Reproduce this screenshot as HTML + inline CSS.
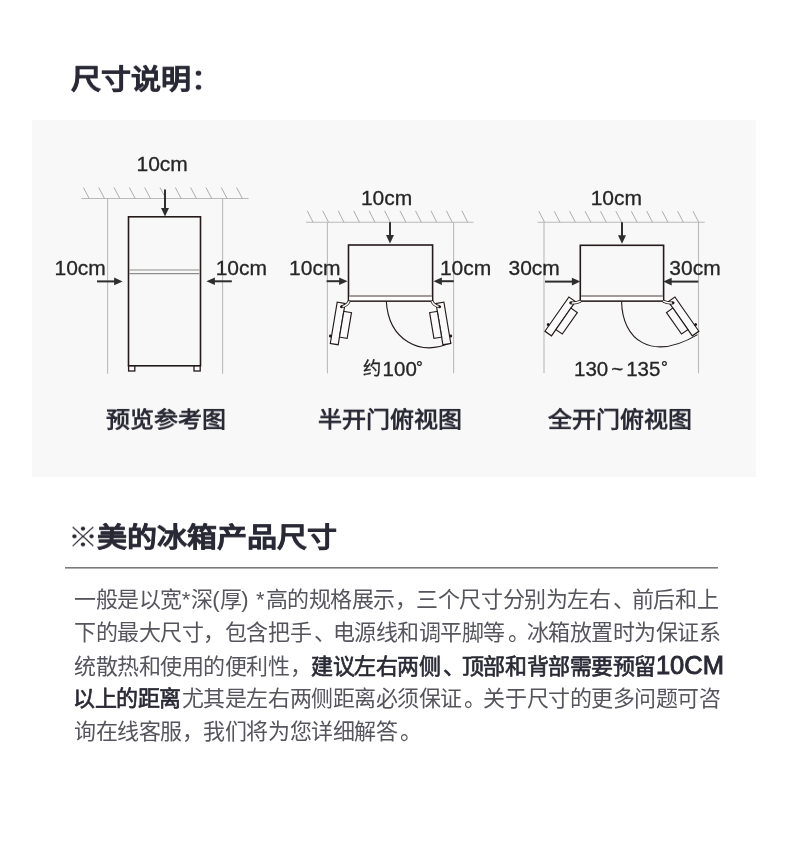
<!DOCTYPE html>
<html lang="zh-CN">
<head>
<meta charset="utf-8">
<style>
html,body{margin:0;padding:0;background:#fff;}
body{width:790px;height:860px;position:relative;overflow:hidden;font-family:"Liberation Sans",sans-serif;}
.abs{position:absolute;white-space:nowrap;will-change:transform;}
#title{left:71px;top:58px;font-size:30px;font-weight:bold;color:#2a2a36;line-height:40px;transform:scaleY(0.907);transform-origin:0 34px;-webkit-text-stroke:0.5px #2a2a36;}
#panel{left:32px;top:120px;width:724px;height:357px;background:#f8f8f8;}
.cap{font-size:24px;font-weight:bold;color:#2a2a36;line-height:30px;transform:scaleY(0.92);transform-origin:0 14px;}
#h2{left:68px;top:516px;font-size:30px;font-weight:bold;color:#2a2a36;line-height:40px;transform:scaleY(0.9);transform-origin:0 34px;-webkit-text-stroke:0.5px #2a2a36;}
#h2 i{font-style:normal;font-weight:normal;margin-right:-1px;-webkit-text-stroke:0;}
#rule{left:65px;top:567px;width:653px;height:1px;background:#7b7b7b;box-shadow:0 1px 0 #b0b0b0;}
.ln{left:74px;font-size:22px;letter-spacing:-0.45px;line-height:33px;color:#55555d;will-change:transform;}
.ln b{font-weight:normal;-webkit-text-stroke:0.65px #2a2a36;color:#2a2a36;}
.r{position:relative;left:2.5px;}
.ln s{text-decoration:none;letter-spacing:0.25px;}
.ln b u{text-decoration:none;font-size:25.5px;-webkit-text-stroke:0.9px #2a2a36;letter-spacing:0;}
svg{position:absolute;left:0;top:0;}
</style>
</head>
<body>
<div id="title" class="abs">尺寸说明<span style="-webkit-text-stroke:0">：</span></div>
<div id="panel" class="abs"></div>
<svg width="790" height="860" viewBox="0 0 790 860">
<line x1="81.4" y1="198.5" x2="248.6" y2="198.5" stroke="#bababa" stroke-width="1.1"/>
<path d="M83.40 187.5L89.20 198.5M98.72 187.5L104.52 198.5M114.04 187.5L119.84 198.5M129.36 187.5L135.16 198.5M144.68 187.5L150.48 198.5M160.00 187.5L165.80 198.5M175.32 187.5L181.12 198.5M190.64 187.5L196.44 198.5M205.96 187.5L211.76 198.5M221.28 187.5L227.08 198.5M236.60 187.5L242.40 198.5" stroke="#a4a4a4" stroke-width="0.9" fill="none"/>
<line x1="107.6" y1="198.5" x2="107.6" y2="373.7" stroke="#bababa" stroke-width="1.1"/>
<line x1="222.6" y1="198.5" x2="222.6" y2="373.7" stroke="#bababa" stroke-width="1.1"/>
<rect x="128.5" y="216.8" width="72" height="149" fill="none" stroke="#241a1a" stroke-width="1.6"/>
<line x1="129.3" y1="270" x2="199.5" y2="270" stroke="#8f8d8b" stroke-width="1.2"/>
<line x1="129.3" y1="273.6" x2="199.5" y2="273.6" stroke="#8f8d8b" stroke-width="1.2"/>
<rect x="128.6" y="366" width="6.2" height="5" fill="#fbfbfb" stroke="#241a1a" stroke-width="1.3"/>
<rect x="194" y="366" width="6.2" height="5" fill="#fbfbfb" stroke="#241a1a" stroke-width="1.3"/>
<line x1="165" y1="189.5" x2="165" y2="210.5" stroke="#2e2e2e" stroke-width="2"/>
<path d="M161 208.0L169 208.0L165 216.5Z" fill="#2e2e2e"/>
<line x1="97" y1="281.4" x2="116.6" y2="281.4" stroke="#2e2e2e" stroke-width="2"/>
<path d="M114.1 277.59999999999997L114.1 285.2L122.6 281.4Z" fill="#2e2e2e"/>
<line x1="231.8" y1="281.3" x2="212.4" y2="281.3" stroke="#2e2e2e" stroke-width="2"/>
<path d="M214.9 277.5L214.9 285.1L206.4 281.3Z" fill="#2e2e2e"/>
<text x="136.5" y="170.8" font-family="Liberation Sans" font-size="21" fill="#262626" stroke="#262626" stroke-width="0.3">10cm</text>
<text x="54.5" y="275.3" font-family="Liberation Sans" font-size="21" fill="#262626" stroke="#262626" stroke-width="0.3">10cm</text>
<text x="215.7" y="275.3" font-family="Liberation Sans" font-size="21" fill="#262626" stroke="#262626" stroke-width="0.3">10cm</text>
<line x1="305.8" y1="222.3" x2="473.5" y2="222.3" stroke="#bababa" stroke-width="1.1"/>
<path d="M307.30 210.8L313.10 222.3M322.76 210.8L328.56 222.3M338.22 210.8L344.02 222.3M353.68 210.8L359.48 222.3M369.14 210.8L374.94 222.3M384.60 210.8L390.40 222.3M400.06 210.8L405.86 222.3M415.52 210.8L421.32 222.3M430.98 210.8L436.78 222.3M446.44 210.8L452.24 222.3M461.90 210.8L467.70 222.3" stroke="#a4a4a4" stroke-width="0.9" fill="none"/>
<line x1="327.4" y1="222.3" x2="327.4" y2="373.2" stroke="#bababa" stroke-width="1.1"/>
<line x1="453.6" y1="222.3" x2="453.6" y2="373.2" stroke="#bababa" stroke-width="1.1"/>
<path d="M386.3 301.4C388.68 339.71 419.45 356.91 451.2 342.6" fill="none" stroke="#241a1a" stroke-width="1.1"/>
<g transform="translate(337.2 302.2) rotate(9.5)"><rect x="0" y="0" width="8" height="41.8" fill="#fafafa" stroke="#241a1a" stroke-width="1.15"/><rect x="8" y="7.9" width="7.8" height="26.2" fill="#fafafa" stroke="#241a1a" stroke-width="1.15"/><circle cx="-1.1" cy="34.5" r="1.5" fill="#241a1a"/></g>
<g transform="translate(781.1 0) scale(-1 1) translate(337.2 302.2) rotate(9.5)"><rect x="0" y="0" width="8" height="41.8" fill="#fafafa" stroke="#241a1a" stroke-width="1.15"/><rect x="8" y="7.9" width="7.8" height="26.2" fill="#fafafa" stroke="#241a1a" stroke-width="1.15"/><circle cx="-1.1" cy="34.5" r="1.5" fill="#241a1a"/></g>
<rect x="348.5" y="245" width="84.1" height="56.1" fill="#f8f8f8" stroke="#241a1a" stroke-width="1.6"/>
<rect x="349.3" y="296.6" width="82.5" height="3.6" fill="#fdfdfd"/>
<line x1="349.3" y1="295.9" x2="431.8" y2="295.9" stroke="#857c78" stroke-width="1.5"/>
<g><path d="M341.3 306.8Q347.2 305.6 349.2 301.2" stroke="#241a1a" stroke-width="3" fill="none"/><path d="M341.3 306.8Q347.2 305.6 349.2 301.2" stroke="#fafafa" stroke-width="1.5" fill="none"/><circle cx="341.3" cy="306.8" r="1.35" fill="#241a1a"/></g>
<g transform="translate(781.1 0) scale(-1 1)"><path d="M341.3 306.8Q347.2 305.6 349.2 301.2" stroke="#241a1a" stroke-width="3" fill="none"/><path d="M341.3 306.8Q347.2 305.6 349.2 301.2" stroke="#fafafa" stroke-width="1.5" fill="none"/><circle cx="341.3" cy="306.8" r="1.35" fill="#241a1a"/></g>
<line x1="390" y1="222.3" x2="390" y2="237.5" stroke="#2e2e2e" stroke-width="2"/>
<path d="M386 235.0L394 235.0L390 243.5Z" fill="#2e2e2e"/>
<line x1="326.6" y1="281.2" x2="341.6" y2="281.2" stroke="#2e2e2e" stroke-width="2"/>
<path d="M339.1 277.4L339.1 285.0L347.6 281.2Z" fill="#2e2e2e"/>
<line x1="453.8" y1="281.2" x2="439.4" y2="281.2" stroke="#2e2e2e" stroke-width="2"/>
<path d="M441.9 277.4L441.9 285.0L433.4 281.2Z" fill="#2e2e2e"/>
<text x="360.9" y="204.8" font-family="Liberation Sans" font-size="21" fill="#262626" stroke="#262626" stroke-width="0.3">10cm</text>
<text x="289.1" y="275.4" font-family="Liberation Sans" font-size="21" fill="#262626" stroke="#262626" stroke-width="0.3">10cm</text>
<text x="439.9" y="275.4" font-family="Liberation Sans" font-size="21" fill="#262626" stroke="#262626" stroke-width="0.3">10cm</text>
<text x="362.8" y="374.6" font-family="Liberation Sans" fill="#262626" stroke="#262626" stroke-width="0.3" font-size="18.2">约</text>
<text x="382.6" y="375.8" font-family="Liberation Sans" fill="#262626" stroke="#262626" stroke-width="0.3" font-size="20.5">100</text>
<text x="416" y="373.2" font-family="Liberation Sans" fill="#262626" stroke="#262626" stroke-width="0.3" font-size="17">°</text>
<line x1="537.6" y1="222.3" x2="704.7" y2="222.3" stroke="#bababa" stroke-width="1.1"/>
<path d="M538.80 211.2L544.60 222.3M554.22 211.2L560.02 222.3M569.64 211.2L575.44 222.3M585.06 211.2L590.86 222.3M600.48 211.2L606.28 222.3M615.90 211.2L621.70 222.3M631.32 211.2L637.12 222.3M646.74 211.2L652.54 222.3M662.16 211.2L667.96 222.3M677.58 211.2L683.38 222.3M693.00 211.2L698.80 222.3" stroke="#a4a4a4" stroke-width="0.9" fill="none"/>
<line x1="544" y1="222.3" x2="544" y2="373.2" stroke="#bababa" stroke-width="1.1"/>
<line x1="698.5" y1="222.3" x2="698.5" y2="373.2" stroke="#bababa" stroke-width="1.1"/>
<path d="M621.6 301.4C622.22 339.84 651.35 361.85 697.6 334.6" fill="none" stroke="#241a1a" stroke-width="1.1"/>
<g transform="translate(568.9 297.0) rotate(35)"><rect x="0" y="0" width="8" height="41.8" fill="#fafafa" stroke="#241a1a" stroke-width="1.15"/><rect x="8" y="7.9" width="7.8" height="26.2" fill="#fafafa" stroke="#241a1a" stroke-width="1.15"/><circle cx="-1.1" cy="34.5" r="1.5" fill="#241a1a"/></g>
<g transform="translate(1243.8 0) scale(-1 1) translate(568.9 297.0) rotate(35)"><rect x="0" y="0" width="8" height="41.8" fill="#fafafa" stroke="#241a1a" stroke-width="1.15"/><rect x="8" y="7.9" width="7.8" height="26.2" fill="#fafafa" stroke="#241a1a" stroke-width="1.15"/><circle cx="-1.1" cy="34.5" r="1.5" fill="#241a1a"/></g>
<rect x="580.3" y="245.3" width="83.3" height="55.8" fill="#f8f8f8" stroke="#241a1a" stroke-width="1.6"/>
<rect x="581.1" y="296.7" width="81.6" height="3.4" fill="#fdfdfd"/>
<line x1="581.1" y1="296" x2="662.7" y2="296" stroke="#857c78" stroke-width="1.5"/>
<g><path d="M570.6 302.8Q576 303.5 580.6 301.2" stroke="#241a1a" stroke-width="3" fill="none"/><path d="M570.6 302.8Q576 303.5 580.6 301.2" stroke="#fafafa" stroke-width="1.5" fill="none"/><circle cx="570.6" cy="302.8" r="1.35" fill="#241a1a"/></g>
<g transform="translate(1243.8 0) scale(-1 1)"><path d="M570.6 302.8Q576 303.5 580.6 301.2" stroke="#241a1a" stroke-width="3" fill="none"/><path d="M570.6 302.8Q576 303.5 580.6 301.2" stroke="#fafafa" stroke-width="1.5" fill="none"/><circle cx="570.6" cy="302.8" r="1.35" fill="#241a1a"/></g>
<line x1="622" y1="222.3" x2="622" y2="237.8" stroke="#2e2e2e" stroke-width="2"/>
<path d="M618 235.3L626 235.3L622 243.8Z" fill="#2e2e2e"/>
<line x1="545" y1="281.6" x2="574.4" y2="281.6" stroke="#2e2e2e" stroke-width="2"/>
<path d="M571.9 277.8L571.9 285.40000000000003L580.4 281.6Z" fill="#2e2e2e"/>
<line x1="698.3" y1="281.6" x2="669.2" y2="281.6" stroke="#2e2e2e" stroke-width="2"/>
<path d="M671.7 277.8L671.7 285.40000000000003L663.2 281.6Z" fill="#2e2e2e"/>
<text x="590.7" y="205" font-family="Liberation Sans" font-size="21" fill="#262626" stroke="#262626" stroke-width="0.3">10cm</text>
<text x="508.5" y="275.3" font-family="Liberation Sans" font-size="21" fill="#262626" stroke="#262626" stroke-width="0.3">30cm</text>
<text x="669.3" y="275.3" font-family="Liberation Sans" font-size="21" fill="#262626" stroke="#262626" stroke-width="0.3">30cm</text>
<text x="574" y="376.2" font-family="Liberation Sans" font-size="20.5" fill="#262626" stroke="#262626" stroke-width="0.3">130</text>
<text x="611.2" y="376.2" font-family="Liberation Sans" font-size="20.5" fill="#262626" stroke="#262626" stroke-width="0.3">~</text>
<text x="626.2" y="376.2" font-family="Liberation Sans" fill="#262626" stroke="#262626" stroke-width="0.3" font-size="20.5">135</text>
<text x="661" y="373.2" font-family="Liberation Sans" fill="#262626" stroke="#262626" stroke-width="0.3" font-size="17">°</text>
</svg>
<div class="abs cap" style="left:106px;top:405px;">预览参考图</div>
<div class="abs cap" style="left:318px;top:405px;">半开门俯视图</div>
<div class="abs cap" style="left:548px;top:405px;">全开门俯视图</div>
<div id="h2" class="abs"><i>※</i>美的冰箱产品尺寸</div>
<div id="rule" class="abs"></div>
<div class="abs ln" style="top:583px">一般是以宽<s>*</s>深<s>(</s>厚<s>)</s><s style="letter-spacing:1px"> *</s>高的规格展示，三个尺寸分别为左右<span class="r">、</span>前后和上</div>
<div class="abs ln" style="top:616px">下的最大尺寸，包含把手<span class="r">、</span>电源线和调平脚等<span class="r">。</span>冰箱放置时为保证系</div>
<div class="abs ln" style="top:649px">统散热和使用的便利性，<b>建议左右两侧<span class="r">、</span>顶部和背部需要预留<u>10CM</u></b></div>
<div class="abs ln" style="top:682px"><b style="margin-left:-1px;margin-right:1px">以上的距离</b>尤其是左右两侧距离必须保证<span class="r">。</span>关于尺寸的更多问题可咨</div>
<div class="abs ln" style="top:715px">询在线客服，我们将为您详细解答<span style="position:relative;left:3px">。</span></div>
</body>
</html>
